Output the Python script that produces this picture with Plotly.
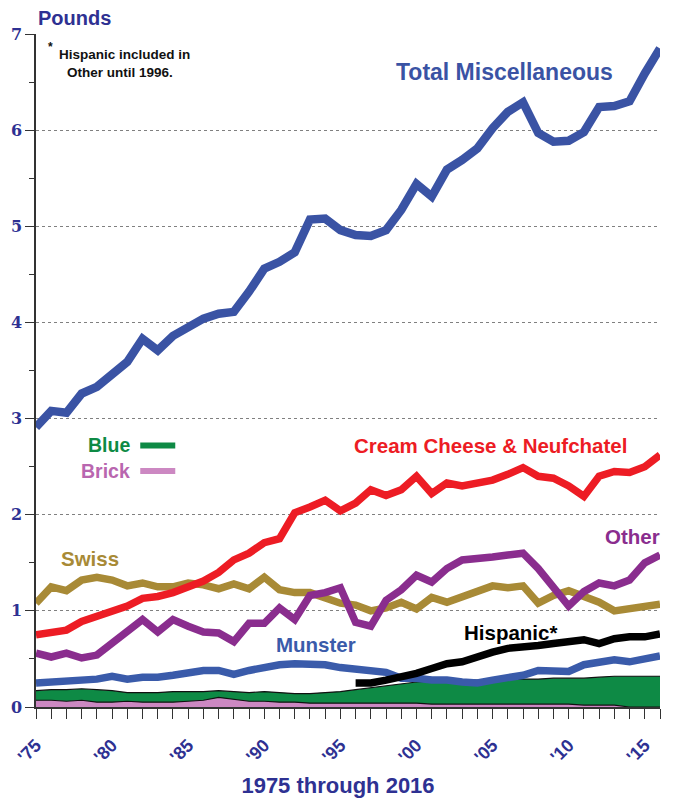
import plotly.graph_objects as go

years = list(range(1975, 2017))

total_misc = [2.91, 3.08, 3.06, 3.26, 3.33, 3.47, 3.59, 3.83, 3.71, 3.86,
              3.95, 4.04, 4.09, 4.11, 4.32, 4.56, 4.63, 4.73, 5.07, 5.08,
              4.96, 4.91, 4.90, 4.96, 5.17, 5.44, 5.31, 5.59, 5.69, 5.81,
              6.02, 6.19, 6.29, 5.97, 5.88, 5.89, 5.98, 6.24, 6.25, 6.30,
              6.59, 6.85]

cream_cheese = [0.75, 0.78, 0.80, 0.89, 0.94, 1.00, 1.05, 1.13, 1.15, 1.19,
                1.24, 1.31, 1.40, 1.53, 1.60, 1.71, 1.75, 2.02, 2.08, 2.15,
                2.04, 2.12, 2.26, 2.20, 2.26, 2.40, 2.22, 2.33, 2.30, 2.33,
                2.36, 2.42, 2.49, 2.40, 2.38, 2.30, 2.19, 2.40, 2.45, 2.44,
                2.50, 2.62]

other = [0.56, 0.52, 0.56, 0.51, 0.54, 0.66, 0.78, 0.91, 0.78, 0.91,
         0.84, 0.78, 0.77, 0.68, 0.87, 0.87, 1.03, 0.91, 1.16, 1.19,
         1.24, 0.88, 0.84, 1.11, 1.22, 1.37, 1.30, 1.44, 1.53, 1.54,
         1.56, 1.58, 1.60, 1.44, 1.25, 1.05, 1.20, 1.29, 1.26, 1.32,
         1.50, 1.58]

swiss = [1.08, 1.25, 1.21, 1.32, 1.35, 1.32, 1.26, 1.29, 1.25, 1.25,
         1.29, 1.27, 1.23, 1.28, 1.23, 1.35, 1.22, 1.19, 1.19, 1.13,
         1.08, 1.06, 1.00, 1.03, 1.09, 1.02, 1.14, 1.09, 1.15, 1.20,
         1.26, 1.24, 1.26, 1.08, 1.16, 1.21, 1.16, 1.09, 1.00, 1.02,
         1.05, 1.07]

munster = [0.25, 0.26, 0.26, 0.28, 0.29, 0.32, 0.29, 0.31, 0.31, 0.33,
           0.35, 0.38, 0.38, 0.34, 0.38, 0.41, 0.44, 0.45, 0.45, 0.44,
           0.41, 0.39, 0.38, 0.36, 0.30, 0.30, 0.28, 0.28, 0.26, 0.25,
           0.28, 0.31, 0.33, 0.38, 0.37, 0.37, 0.44, 0.46, 0.49, 0.47,
           0.51, 0.53]

hispanic_years = list(range(1996, 2017))
hispanic = [0.25, 0.25, 0.28, 0.31, 0.35, 0.40, 0.45, 0.47, 0.51, 0.57,
            0.61, 0.62, 0.64, 0.66, 0.68, 0.70, 0.66, 0.71, 0.73, 0.73,
            0.76]

blue = [0.17, 0.18, 0.18, 0.19, 0.18, 0.17, 0.15, 0.15, 0.15, 0.16,
        0.16, 0.16, 0.17, 0.16, 0.15, 0.16, 0.15, 0.14, 0.14, 0.15,
        0.16, 0.18, 0.20, 0.22, 0.24, 0.26, 0.27, 0.27, 0.28, 0.28,
        0.28, 0.29, 0.29, 0.29, 0.30, 0.30, 0.30, 0.31, 0.32, 0.32,
        0.32, 0.32]

brick = [0.07, 0.07, 0.06, 0.07, 0.05, 0.05, 0.06, 0.05, 0.05, 0.05,
         0.06, 0.07, 0.10, 0.08, 0.06, 0.06, 0.05, 0.05, 0.04, 0.04,
         0.04, 0.04, 0.04, 0.04, 0.04, 0.04, 0.03, 0.03, 0.03, 0.03,
         0.03, 0.03, 0.03, 0.03, 0.03, 0.03, 0.02, 0.02, 0.02, 0.00,
         0.00, 0.00]

tick_years = [1975, 1980, 1985, 1990, 1995, 2000, 2005, 2010, 2015]
tick_text = ["'75", "'80", "'85", "'90", "'95", "'00", "'05", "'10", "'15"]

NAVY = "#2E3192"
C_TOTAL = "#3A53A4"
C_CREAM = "#ED1C24"
C_OTHER = "#8A2D8E"
C_SWISS = "#A88A36"
C_MUNSTER = "#3A5BAA"
C_GREEN = "#0E8A45"
C_PINK = "#CC88C2"
SANS = "Liberation Sans, Arial"

fig = go.Figure()

fig.add_trace(go.Scatter(x=years, y=blue, mode="lines", fill="tozeroy",
                         fillcolor=C_GREEN, line=dict(color="#111111", width=1.2)))
fig.add_trace(go.Scatter(x=years, y=brick, mode="lines", fill="tozeroy",
                         fillcolor=C_PINK, line=dict(color="#111111", width=1.2)))

fig.add_trace(go.Scatter(x=years, y=munster, mode="lines",
                         line=dict(color=C_MUNSTER, width=7.5)))
fig.add_trace(go.Scatter(x=hispanic_years, y=hispanic, mode="lines",
                         line=dict(color="#000000", width=7.5)))
fig.add_trace(go.Scatter(x=years, y=swiss, mode="lines",
                         line=dict(color=C_SWISS, width=7.5)))
fig.add_trace(go.Scatter(x=years, y=other, mode="lines",
                         line=dict(color=C_OTHER, width=7.5)))
fig.add_trace(go.Scatter(x=years, y=cream_cheese, mode="lines",
                         line=dict(color=C_CREAM, width=7.5)))
fig.add_trace(go.Scatter(x=years, y=total_misc, mode="lines",
                         line=dict(color=C_TOTAL, width=8.5)))

labels = [
    ("Total Miscellaneous", 2005.75, 6.6, C_TOTAL, 23, "center"),
    ("Cream Cheese & Neufchatel", 2004.83, 2.725, C_CREAM, 20.5, "center"),
    ("Other", 2014.16, 1.77, C_OTHER, 20.5, "center"),
    ("Swiss", 1978.55, 1.54, C_SWISS, 20.5, "center"),
    ("Munster", 1993.4, 0.655, C_MUNSTER, 20.5, "center"),
    ("Hispanic*", 2006.2, 0.78, "#000000", 20.5, "center"),
    ("Blue", 1981.3, 2.72, C_GREEN, 19.5, "right"),
    ("Brick", 1981.3, 2.455, "#B966AF", 19.5, "right"),
]
for txt, x, y, col, sz, anc in labels:
    fig.add_annotation(x=x, y=y, text=txt, showarrow=False, xanchor=anc,
                       font=dict(family=SANS, size=sz, color=col, weight="bold"))

# legend swatches for Blue / Brick
for y, col in [(2.72, C_GREEN), (2.455, C_PINK)]:
    fig.add_shape(type="line", xref="x", yref="y", x0=1981.85, x1=1984.15,
                  y0=y, y1=y, line=dict(color=col, width=6))

# footnote
fig.add_annotation(x=1975.65, y=6.86, text="*", showarrow=False, xanchor="left",
                   font=dict(family=SANS, size=12, color="#111111", weight="bold"))
fig.add_annotation(x=1976.38, y=6.79, text="Hispanic included in", showarrow=False,
                   xanchor="left",
                   font=dict(family=SANS, size=13.5, color="#111111", weight="bold"))
fig.add_annotation(x=1976.9, y=6.60, text="Other until 1996.", showarrow=False,
                   xanchor="left",
                   font=dict(family=SANS, size=13.5, color="#111111", weight="bold"))

fig.add_annotation(xref="paper", yref="paper", x=0.0, y=1.0, yshift=16,
                   xanchor="left", yanchor="middle", text="Pounds", showarrow=False,
                   font=dict(family=SANS, size=20, color=NAVY, weight="bold"))

# page body adds an 8px offset; figure placed to compensate
fig.update_layout(
    width=657, height=793,
    margin=dict(l=28, r=5, t=26, b=94),
    paper_bgcolor="white", plot_bgcolor="white",
    showlegend=False,
    title=dict(text="1975 through 2016", x=(338 - 8) / 657, xanchor="center",
               y=16 / 793, yanchor="middle", yref="container",
               font=dict(family=SANS, size=22, color=NAVY, weight="bold")),
)

fig.update_xaxes(range=[1975, 2016], showgrid=False, zeroline=False,
                 automargin=False,
                 showline=True, linecolor="#333333", linewidth=1.5,
                 tickmode="array", tickvals=tick_years, ticktext=tick_text,
                 ticks="outside", ticklen=10, tickcolor="#333333", tickwidth=1,
                 tickangle=-45, ticklabelstandoff=9,
                 tickfont=dict(family=SANS, size=18, color=NAVY, weight="bold"),
                 minor=dict(dtick=1, tick0=1975, ticks="outside", ticklen=10,
                            tickcolor="#333333", tickwidth=1, showgrid=False))

fig.update_yaxes(range=[0, 7], dtick=1, showgrid=True, gridcolor="#808080",
                 griddash="3px,3px", gridwidth=1, zeroline=False,
                 automargin=False,
                 showline=True, linecolor="#333333", linewidth=1.5,
                 ticks="outside", ticklen=9, tickcolor="#333333",
                 ticklabelstandoff=0,
                 tickfont=dict(family="DejaVu Serif", size=16, color=NAVY,
                               weight="bold"),
                 minor=dict(dtick=0.5, ticks="outside", ticklen=5,
                            tickcolor="#333333", showgrid=False))

fig.write_html("out.html")
